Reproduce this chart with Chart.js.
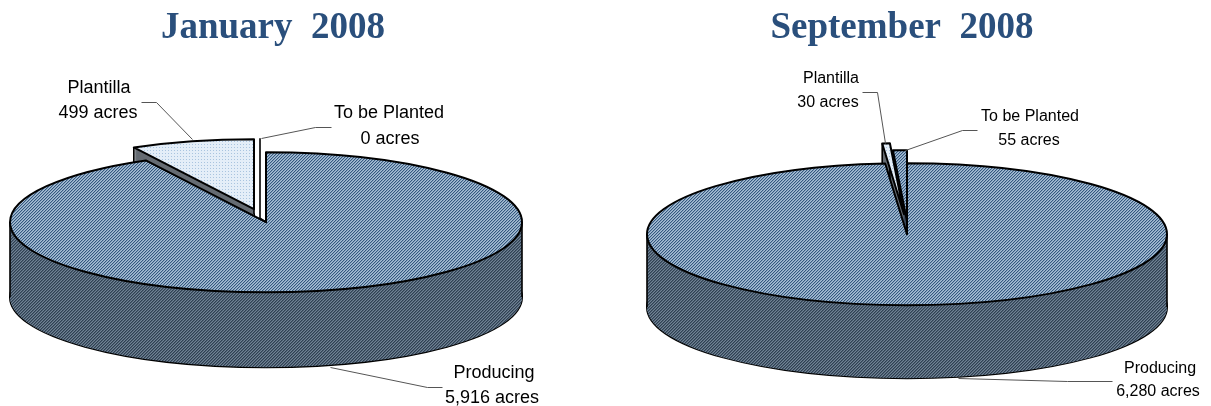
<!DOCTYPE html>
<html>
<head>
<meta charset="utf-8">
<script src="https://cdn.jsdelivr.net/npm/chart.js@4"></script>
<style>
html, body { margin: 0; padding: 0; background: #fff; overflow: hidden; }
.wrap { position: absolute; top: 0; height: 406px; }
</style>
</head>
<body>
<div class="wrap" style="left:0;width:546px"><canvas id="janChart"></canvas></div>
<div class="wrap" style="left:592px;width:620px"><canvas id="sepChart"></canvas></div>
<script>
const categories = ['Producing', 'Plantilla', 'To be Planted'];
const janAcres = [5916, 499, 0];
const sepAcres = [6280, 30, 55];
const janTitle = 'January  2008';
const sepTitle = 'September  2008';

function pixelPattern(size, paint) {
    const c = document.createElement('canvas');
    c.width = c.height = size;
    const g = c.getContext('2d');
    for (let y = 0; y < size; y++) {
        for (let x = 0; x < size; x++) {
            g.fillStyle = paint(x, y);
            g.fillRect(x, y, 1, 1);
        }
    }
    return g.createPattern(c, 'repeat');
}
const blueHatch = pixelPattern(3, (x, y) => (x + y) % 3 === 0 ? '#34587f' : ((x + y) % 3 === 1 ? '#86a1bc' : '#a8bfd5'));
const wallHatch = pixelPattern(3, (x, y) => (x + y) % 3 === 0 ? '#2f4052' : ((x + y) % 3 === 1 ? '#4f6173' : '#708294'));
const lightDots = pixelPattern(3, (x, y) => (x === 0 && y === 0) ? '#a9c4df' : '#e4eef8');

// draws the tilted pie from the arcs the pie controller laid out
const pie3d = {
    id: 'pie3d',
    beforeDatasetsDraw(chart, args, opts) {
        const ctx = chart.ctx;
        const arcs = chart.getDatasetMeta(0).data;
        const colors = chart.data.datasets[0].backgroundColor;
        const centre = (a, i) => [a.x + opts.nudge[0] + opts.explode[i][0], a.y + opts.nudge[1] + opts.explode[i][1]];
        const path = (a, i, dy) => {
            const [cx, cy] = centre(a, i);
            ctx.beginPath();
            ctx.moveTo(cx, cy + dy);
            ctx.ellipse(cx, cy + dy, opts.rx, opts.ry, 0, a.startAngle, a.endAngle);
            ctx.closePath();
        };
        ctx.save();
        ctx.strokeStyle = '#000';
        ctx.lineJoin = 'round';
        // back slices first, the big one goes on top of them
        for (let i = arcs.length - 1; i >= 0; i--) {
            const a = arcs[i];
            if (a.endAngle - a.startAngle <= 0) {
                // zero acres: the slice collapses to a single edge
                const x0 = a.x + opts.nudge[0], y0 = a.y + opts.nudge[1];
                const [cx, cy] = centre(a, i);
                ctx.lineWidth = 1.6;
                ctx.beginPath();
                ctx.moveTo(x0, y0);
                ctx.lineTo(cx, y0 - 4);
                ctx.lineTo(cx, cy - opts.ry);
                ctx.stroke();
                continue;
            }
            ctx.lineWidth = 2;
            path(a, i, opts.depth);
            ctx.stroke();
            ctx.fillStyle = opts.walls[i];
            for (let dy = opts.depth; dy >= 0; dy--) {
                path(a, i, dy);
                ctx.fill();
            }
            // vertical edges of the wall
            const [cx, cy] = centre(a, i);
            const full = Math.PI * 2;
            const marks = [a.startAngle, a.endAngle, 0, Math.PI, full, full + Math.PI].filter(t => t >= a.startAngle && t <= a.endAngle);
            ctx.lineWidth = 1.6;
            ctx.beginPath();
            marks.forEach(t => {
                const px = cx + Math.cos(t) * opts.rx, py = cy + Math.sin(t) * opts.ry;
                ctx.moveTo(px, py);
                ctx.lineTo(px, py + opts.depth);
            });
            ctx.stroke();
            path(a, i, 0);
            ctx.fillStyle = colors[i];
            ctx.fill();
            ctx.lineWidth = 2;
            ctx.stroke();
        }
        ctx.restore();
        return false;
    },
    // beforeDatasetsDraw returning false also skips afterDatasetsDraw
    afterDraw(chart, args, opts) {
        const ctx = chart.ctx;
        ctx.save();
        opts.leaders.forEach(pts => {
            ctx.strokeStyle = '#555';
            ctx.lineWidth = 1;
            ctx.beginPath();
            pts.forEach((p, k) => k ? ctx.lineTo(p[0] - opts.left + 0.5, p[1] + 0.5) : ctx.moveTo(p[0] - opts.left + 0.5, p[1] + 0.5));
            ctx.stroke();
        });
        ctx.fillStyle = '#000';
        ctx.textAlign = 'center';
        ctx.textBaseline = 'middle';
        ctx.font = opts.font;
        opts.texts.forEach(t => ctx.fillText(t[0], t[1] - opts.left, t[2]));
        ctx.restore();
    }
};

function makePie(id, title, acres, colors, opts) {
    new Chart(document.getElementById(id), {
        type: 'pie',
        data: {
            labels: categories,
            datasets: [{ data: acres, backgroundColor: colors, borderWidth: 0 }]
        },
        plugins: [pie3d],
        options: {
            responsive: true,
            maintainAspectRatio: false,
            animation: false,
            layout: { padding: { bottom: 22 } },
            plugins: {
                legend: { display: false },
                tooltip: { enabled: false },
                title: {
                    display: true,
                    text: title,
                    color: '#2a4f7c',
                    font: { family: '"Liberation Serif"', size: 37, weight: 'bold' },
                    padding: { top: 6, bottom: 12 }
                },
                pie3d: opts
            }
        }
    });
}

makePie('janChart', janTitle, janAcres, [blueHatch, lightDots, '#fff'], {
    left: 0, nudge: [-7, -1], rx: 256, ry: 70, depth: 75,
    explode: [[0, 0], [-12, -13], [-6, -14]],
    walls: [wallHatch, '#666c73', '#666c73'],
    font: '18px "Liberation Sans"',
    leaders: [
        [[141, 102], [156, 102], [192, 139]],
        [[331, 127], [315, 127], [261, 138]],
        [[330, 367], [427, 387], [442, 387]]
    ],
    texts: [
        ['Plantilla', 99, 88], ['499 acres', 98, 113],
        ['To be Planted', 389, 113], ['0 acres', 390, 139],
        ['Producing', 494, 373], ['5,916 acres', 492, 398]
    ]
});

makePie('sepChart', sepTitle, sepAcres, [blueHatch, lightDots, blueHatch], {
    left: 592, nudge: [5, 11], rx: 260, ry: 71, depth: 73,
    explode: [[0, 0], [-3, -20], [0, -13]],
    walls: [wallHatch, '#666c73', '#3a4a5a'],
    font: '16px "Liberation Sans"',
    leaders: [
        [[862, 92], [877, 92], [885, 143]],
        [[977, 130], [962, 130], [905, 150]],
        [[958, 378], [1067, 381], [1112, 381]]
    ],
    texts: [
        ['Plantilla', 831, 79], ['30 acres', 828, 103],
        ['To be Planted', 1030, 117], ['55 acres', 1029, 141],
        ['Producing', 1160, 369], ['6,280 acres', 1158, 392]
    ]
});
</script>
</body>
</html>
